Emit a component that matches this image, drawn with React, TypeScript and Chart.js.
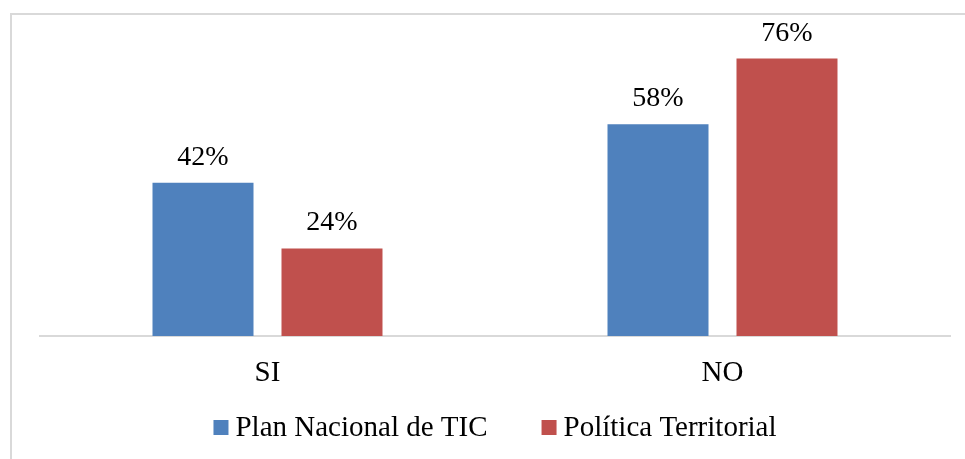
import React, { useEffect, useRef } from "react";
import { Chart, registerables } from "chart.js";

Chart.register(...registerables);

const categories = ["SI", "NO"];
const seriesNames = ["Plan Nacional de TIC", "Política Territorial"];
const planNacional = [42, 58];
const politicaTerritorial = [24, 76];
const seriesColors = ["#4F81BD", "#C0504D"];

const FONT = "'Liberation Serif', 'Times New Roman', serif";

const dataLabelPlugin = {
  id: "dataLabels",
  afterDatasetsDraw(chart: any) {
    const ctx = chart.ctx;
    ctx.save();
    ctx.font = `28px ${FONT}`;
    ctx.fillStyle = "#000";
    ctx.textAlign = "center";
    ctx.textBaseline = "alphabetic";
    chart.data.datasets.forEach((ds: any, di: number) => {
      const meta = chart.getDatasetMeta(di);
      meta.data.forEach((el: any, i: number) => {
        ctx.fillText(`${ds.data[i]}%`, el.x, el.y - 18);
      });
    });
    ctx.restore();
  },
};

const legendPlugin = {
  id: "customLegend",
  afterDraw(chart: any) {
    const ctx = chart.ctx;
    const box = 15;
    const gapText = 7;
    const gapItem = 54;
    ctx.save();
    ctx.font = `29px ${FONT}`;
    const widths = chart.data.datasets.map((ds: any) => ctx.measureText(ds.label).width);
    const total =
      widths.reduce((a: number, w: number) => a + box + gapText + w, 0) +
      gapItem * (widths.length - 1);
    const cx = (chart.chartArea.left + chart.chartArea.right) / 2;
    let x = cx - total / 2;
    const baseline = 436;
    chart.data.datasets.forEach((ds: any, i: number) => {
      ctx.fillStyle = ds.backgroundColor;
      ctx.fillRect(x, baseline - 16, box, box);
      x += box + gapText;
      ctx.fillStyle = "#000";
      ctx.textAlign = "left";
      ctx.textBaseline = "alphabetic";
      ctx.fillText(ds.label, x, baseline);
      x += widths[i] + gapItem;
    });
    ctx.restore();
  },
};

export default function App() {
  const canvasRef = useRef<HTMLCanvasElement | null>(null);

  useEffect(() => {
    const canvas = canvasRef.current;
    if (!canvas) return;
    const chart = new Chart(canvas, {
      type: "bar",
      data: {
        labels: categories,
        datasets: [
          {
            label: seriesNames[0],
            data: planNacional,
            backgroundColor: seriesColors[0],
            categoryPercentage: 0.567,
            barPercentage: 0.783,
          },
          {
            label: seriesNames[1],
            data: politicaTerritorial,
            backgroundColor: seriesColors[1],
            categoryPercentage: 0.567,
            barPercentage: 0.783,
          },
        ],
      },
      options: {
        responsive: false,
        animation: false,
        devicePixelRatio: 1,
        layout: { padding: { left: 40, right: 15, top: 44, bottom: 0 } },
        plugins: {
          legend: { display: false },
          tooltip: { enabled: false },
          title: { display: false },
        },
        scales: {
          x: {
            z: 1,
            grid: { display: false, drawTicks: false },
            border: { display: true, color: "#D9D9D9", width: 2 },
            ticks: {
              color: "#000",
              font: { family: FONT, size: 29 },
              padding: 20,
              maxRotation: 0,
            },
            afterFit: (scale: any) => {
              scale.height = 123;
            },
          },
          y: {
            display: false,
            min: 0,
            max: 80,
          },
        },
      },
      plugins: [dataLabelPlugin, legendPlugin],
    });
    return () => chart.destroy();
  }, []);

  return (
    <div
      style={{
        position: "fixed",
        left: 0,
        top: 0,
        width: 965,
        height: 459,
        overflow: "hidden",
        background: "#fff",
      }}
    >
      <div
        style={{
          position: "absolute",
          left: 10,
          top: 13,
          width: 2000,
          height: 2000,
          borderTop: "2px solid #D9D9D9",
          borderLeft: "2px solid #D9D9D9",
        }}
      />
      <canvas
        ref={canvasRef}
        width={965}
        height={459}
        style={{ position: "absolute", left: 0, top: 0, width: 965, height: 459 }}
      />
    </div>
  );
}
